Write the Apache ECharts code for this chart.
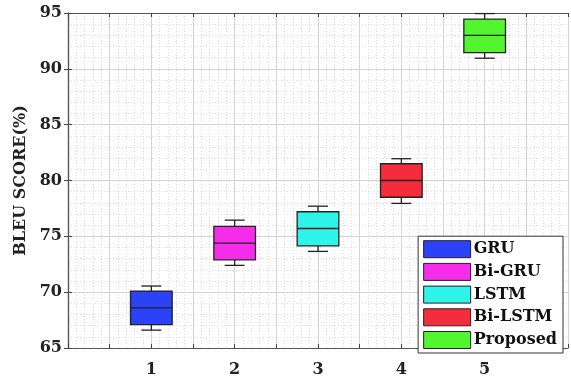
<!DOCTYPE html>
<html><head><meta charset="utf-8">
<script src="https://cdn.jsdelivr.net/npm/echarts@6/dist/echarts.min.js"></script>
<style>html,body{margin:0;padding:0;background:#fff}#c{width:571px;height:378px}</style>
</head><body><div id="c"></div>
<script>
// Data: [position, whiskerLow, q1, median, q3, whiskerHigh]
const names = ['GRU', 'Bi-GRU', 'LSTM', 'Bi-LSTM', 'Proposed'];
const positions = [1, 2, 3, 4, 5];
const whiskerLow = [66.6, 72.4, 73.65, 77.95, 90.95];
const q1 = [67.1, 72.9, 74.15, 78.5, 91.45];
const median = [68.6, 74.4, 75.7, 80.0, 93.0];
const q3 = [70.1, 75.9, 77.2, 81.5, 94.45];
const whiskerHigh = [70.55, 76.45, 77.7, 81.95, 94.95];
const colors = ['#2b42f6', '#f52cea', '#2ef4ea', '#f52c3c', '#52f52e'];
const xTickLabels = ['1', '2', '3', '4', '5'];

const FONT = '"DejaVu Serif", "Liberation Serif", serif';
const chart = echarts.init(document.getElementById('c'), null, {renderer: 'canvas'});

function renderBox(params, api) {
  const x = api.value(0);
  const lo = api.coord([x, api.value(1)]);
  const b1 = api.coord([x, api.value(2)]);
  const md = api.coord([x, api.value(3)]);
  const b3 = api.coord([x, api.value(4)]);
  const hi = api.coord([x, api.value(5)]);
  const bw = api.size([0.5, 0])[0];
  const cw = api.size([0.24, 0])[0];
  const cx = lo[0];
  const line = {stroke: '#222', lineWidth: 1.3};
  return {
    type: 'group',
    children: [
      {type: 'line', shape: {x1: cx, y1: hi[1], x2: cx, y2: b3[1]}, style: line},
      {type: 'line', shape: {x1: cx, y1: lo[1], x2: cx, y2: b1[1]}, style: line},
      {type: 'line', shape: {x1: cx - cw / 2, y1: hi[1], x2: cx + cw / 2, y2: hi[1]}, style: line},
      {type: 'line', shape: {x1: cx - cw / 2, y1: lo[1], x2: cx + cw / 2, y2: lo[1]}, style: line},
      {type: 'rect', shape: {x: cx - bw / 2, y: b3[1], width: bw, height: b1[1] - b3[1]},
        style: {fill: api.visual('color'), stroke: '#222', lineWidth: 1.3}},
      {type: 'line', shape: {x1: cx - bw / 2, y1: md[1], x2: cx + bw / 2, y2: md[1]}, style: line}
    ]
  };
}

const series = names.map((n, i) => ({
  name: n,
  type: 'custom',
  xAxisIndex: 0, yAxisIndex: 0,
  itemStyle: {color: colors[i]},
  renderItem: renderBox,
  encode: {x: 0, y: [1, 2, 3, 4, 5]},
  data: [[positions[i], whiskerLow[i], q1[i], median[i], q3[i], whiskerHigh[i]]],
  z: 5
}));

const axisLineStyle = {color: '#555', width: 1.2};
chart.setOption({
  animation: false,
  backgroundColor: '#fff',
  grid: {left: 68, right: 2, top: 13, bottom: 25, containLabel: false},
  xAxis: [{
    type: 'value', min: 0, max: 6, interval: 0.5,
    axisLine: {show: true, lineStyle: axisLineStyle},
    axisTick: {show: true, inside: true, length: 4, lineStyle: {color: '#444'}},
    axisLabel: {
      margin: 14, color: '#222', fontFamily: FONT, fontWeight: 'bold', fontSize: 16,
      showMinLabel: true, showMaxLabel: true,
      formatter: v => { const k = positions.indexOf(v); return k >= 0 ? xTickLabels[k] : ''; }
    },
    splitLine: {show: true, lineStyle: {color: '#d4d4d4', width: 1}},
    minorTick: {show: false, splitNumber: 5},
    minorSplitLine: {show: true, lineStyle: {color: '#dedede', type: [1, 2], width: 1}}
  }, {
    type: 'value', position: 'top', min: 0, max: 6, interval: 0.5,
    axisLine: {show: true, lineStyle: axisLineStyle},
    axisTick: {show: true, inside: true, length: 4, lineStyle: {color: '#444'}},
    axisLabel: {show: false}, splitLine: {show: false}
  }],
  yAxis: [{
    type: 'value', min: 65, max: 95, interval: 5,
    name: 'BLEU SCORE(%)', nameLocation: 'middle', nameGap: 37, nameRotate: 90,
    nameTextStyle: {fontFamily: FONT, fontWeight: 'bold', fontSize: 16, color: '#222'},
    axisLine: {show: true, lineStyle: axisLineStyle},
    axisTick: {show: true, inside: true, length: 4, lineStyle: {color: '#444'}},
    axisLabel: {margin: 6, color: '#222', fontFamily: FONT, fontWeight: 'bold', fontSize: 16},
    splitLine: {show: true, lineStyle: {color: '#d4d4d4', width: 1}},
    minorTick: {show: false, splitNumber: 5},
    minorSplitLine: {show: true, lineStyle: {color: '#dedede', type: [1, 2], width: 1}}
  }, {
    type: 'value', position: 'right', min: 65, max: 95, interval: 5,
    axisLine: {show: true, lineStyle: axisLineStyle},
    axisTick: {show: true, inside: true, length: 4, lineStyle: {color: '#444'}},
    axisLabel: {show: false}, splitLine: {show: false}
  }],
  legend: {
    orient: 'vertical', right: 8, bottom: 25,
    backgroundColor: '#fff', borderColor: '#333', borderWidth: 1,
    padding: [4, 6, 4, 5], itemGap: 4.7, itemWidth: 47, itemHeight: 17,
    icon: 'rect',
    textStyle: {fontFamily: FONT, fontWeight: 'bold', fontSize: 16, color: '#111', padding: [0, 0, 0, -2]},
    data: names.map((n, i) => ({name: n, itemStyle: {color: colors[i], borderColor: '#222', borderWidth: 1}}))
  },
  series: series
});
</script></body></html>
